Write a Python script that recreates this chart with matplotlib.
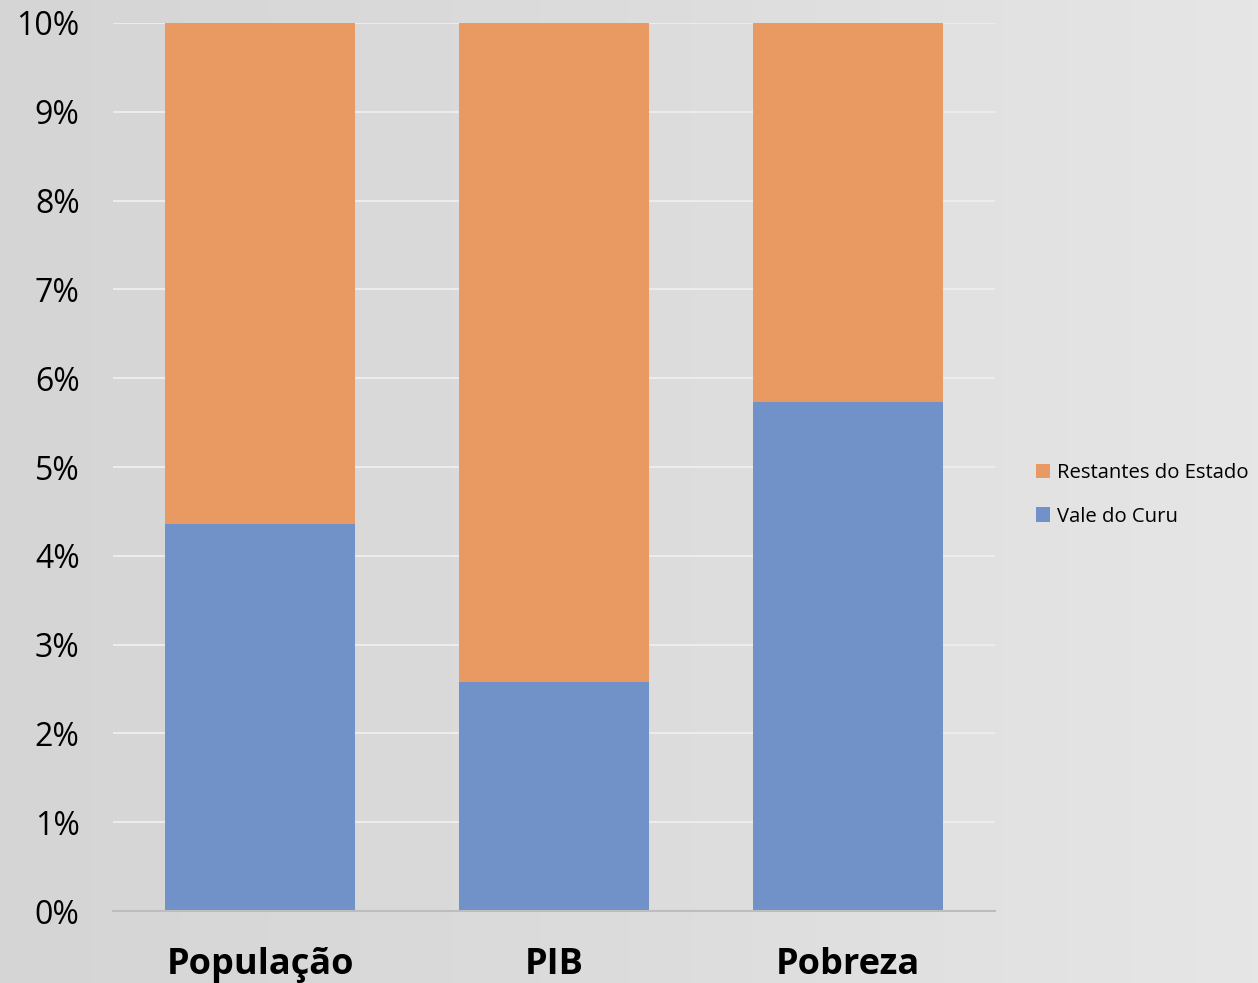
import numpy as np
import matplotlib
matplotlib.use("Agg")
import matplotlib.pyplot as plt
from matplotlib.font_manager import fontManager

# Data (percent)
categories = ["População", "PIB", "Pobreza"]
vale_do_curu = [4.36, 2.58, 5.73]
restantes = [100 - v for v in vale_do_curu]
yticks = list(range(0, 11))

names = {f.name for f in fontManager.ttflist}
label_font = "Liberation Sans Narrow" if "Liberation Sans Narrow" in names else "Open Sans"

BLUE = "#7092c9"
ORANGE = "#e89a62"

fig = plt.figure(figsize=(12.58, 9.83), dpi=100)

# background gradient
bg = fig.add_axes([0, 0, 1, 1], zorder=-10)
grad = np.linspace(0, 1, 256).reshape(1, -1)
bg.imshow(grad, aspect="auto", cmap=matplotlib.colors.LinearSegmentedColormap.from_list(
    "bg", ["#d5d5d5", "#dcdcdc", "#e6e6e6"]), extent=[0, 1, 0, 1])
bg.axis("off")

ax = fig.add_axes([113 / 1258, 1 - 911 / 983, 882 / 1258, 888 / 983])
ax.patch.set_alpha(0)

x = np.arange(len(categories))
w = 0.643
ax.bar(x, vale_do_curu, w, color=BLUE, label="Vale do Curu", zorder=3)
ax.bar(x, restantes, w, bottom=vale_do_curu, color=ORANGE, label="Restantes do Estado", zorder=3)

ax.set_xlim(-0.5, 2.5)
ax.set_ylim(0, 10)
ax.set_yticks(yticks)
ax.set_yticklabels([f"{t}%" for t in yticks], fontsize=23, family="Open Sans")
ax.set_xticks(x)
ax.set_xticklabels(categories, fontsize=26, fontweight="bold", family=label_font)
ax.tick_params(axis="both", length=0)
ax.tick_params(axis="y", pad=24)
ax.tick_params(axis="x", pad=26)

ax.grid(axis="y", color="#ececec", linewidth=1.5, zorder=0)
for s in ["top", "right", "left"]:
    ax.spines[s].set_visible(False)
ax.spines["bottom"].set_color("#bdbdbd")
ax.spines["bottom"].set_linewidth(1.5)
ax.spines["bottom"].set_zorder(4)

handles, labels = ax.get_legend_handles_labels()
leg = fig.legend(handles[::-1], labels[::-1], loc="center left",
                 bbox_to_anchor=(1018 / 1258, 1 - 495 / 983), frameon=False,
                 prop={"family": "Open Sans", "size": 14.6}, handlelength=0.7,
                 handleheight=0.7, handletextpad=0.3, labelspacing=1.15)

fig.savefig("out.png", dpi=100)
